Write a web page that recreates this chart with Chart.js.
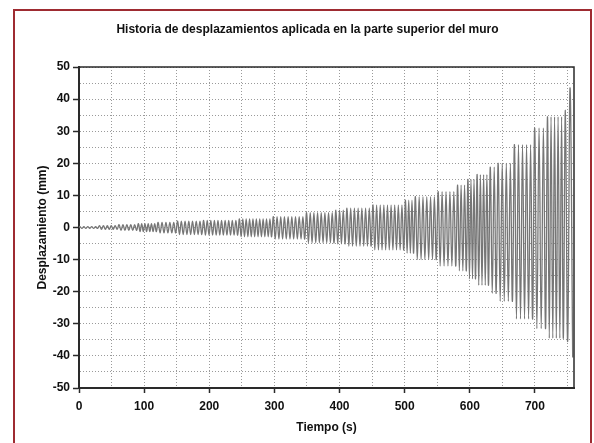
<!DOCTYPE html>
<html>
<head>
<meta charset="utf-8">
<script src="https://cdn.jsdelivr.net/npm/chart.js@4.4.1/dist/chart.umd.min.js"></script>
<style>
  html, body { margin: 0; padding: 0; background: #fff; }
</style>
</head>
<body>
<canvas id="myChart" width="594" height="443"></canvas>
<script>
// Displacement protocol: amplitude stages (time in s, displacement in mm)
const stageTimes = [0, 30, 60, 90, 120, 150, 190, 245, 297, 348, 393, 410, 450, 500, 515, 550, 580, 596, 610, 630, 642, 667, 698, 718, 745, 752, 760];
const stageCycles = [5, 5, 5, 6, 5, 7, 10, 10, 9, 8, 3, 7, 9, 3, 6, 5, 3, 3, 4, 2, 4, 5, 3, 5, 1, 1];
const stageMax = [0.3, 0.6, 0.9, 1.2, 1.6, 2.0, 2.2, 2.7, 3.4, 4.6, 5.4, 6.0, 7.0, 8.5, 9.6, 11.2, 13.2, 15.0, 16.5, 18.8, 20.0, 25.8, 31.0, 34.5, 36.5, 43.5];
const stageMin = [-0.3, -0.6, -0.9, -1.3, -1.7, -2.2, -2.4, -2.9, -3.6, -4.8, -5.1, -5.8, -7.0, -8.0, -10.0, -12.0, -13.5, -16.0, -18.0, -20.5, -23.0, -28.5, -31.5, -34.5, -35.5, -40.5];

const chartTitle = 'Historia de desplazamientos aplicada en la parte superior del muro';
const xTitle = 'Tiempo (s)';
const yTitle = 'Desplazamiento (mm)';

const FONT = 'Liberation Sans, Arial, Helvetica, sans-serif';
const INK = '#111111';
const AXIS = '#2a2a2a';
const GRID = '#9a9a9a';

// each cycle goes up to the stage peak, then down to the stage trough
function buildHistory() {
  const points = [{ x: 0, y: 0 }];
  for (let i = 0; i < stageCycles.length; i++) {
    const t0 = stageTimes[i];
    const dt = (stageTimes[i + 1] - t0) / stageCycles[i];
    for (let k = 0; k < stageCycles[i]; k++) {
      points.push({ x: t0 + dt * (k + 0.25), y: stageMax[i] });
      points.push({ x: t0 + dt * (k + 0.75), y: stageMin[i] });
    }
  }
  return points;
}

const framePlugin = {
  id: 'frame',
  beforeDraw(chart) {
    const ctx = chart.ctx;
    ctx.save();
    ctx.fillStyle = '#ffffff';
    ctx.fillRect(0, 0, chart.width, chart.height);
    ctx.strokeStyle = '#9e2b31';
    ctx.lineWidth = 2;
    ctx.beginPath();
    ctx.moveTo(14, chart.height + 2);
    ctx.lineTo(14, 10);
    ctx.lineTo(591, 10);
    ctx.lineTo(591, chart.height + 2);
    ctx.stroke();
    ctx.restore();
  },
  afterDraw(chart) {
    const { left, top, right, bottom } = chart.chartArea;
    const ctx = chart.ctx;
    ctx.save();
    ctx.strokeStyle = AXIS;
    ctx.lineWidth = 1.5;
    ctx.beginPath();
    ctx.moveTo(left, top);
    ctx.lineTo(right, top);
    ctx.lineTo(right, bottom);
    ctx.stroke();
    ctx.restore();
  }
};

const textFont = { family: FONT, size: 12, weight: 'bold' };

const ctx = document.getElementById('myChart').getContext('2d');
const historyChart = new Chart(ctx, {
  type: 'line',
  data: {
    datasets: [{
      label: 'Desplazamiento',
      data: buildHistory(),
      borderColor: '#767676',
      borderWidth: 1.3,
      pointRadius: 0,
      tension: 0.4,
      fill: false
    }]
  },
  options: {
    responsive: false,
    animation: false,
    devicePixelRatio: 1,
    layout: { padding: { left: 41, right: 20, top: 0, bottom: 0 } },
    plugins: {
      legend: { display: false },
      tooltip: { enabled: false },
      title: {
        display: true,
        text: chartTitle,
        color: INK,
        font: textFont,
        padding: { top: 22.8, bottom: 29.8 }
      }
    },
    scales: {
      x: {
        type: 'linear',
        min: 0,
        max: 760,
        afterFit(scale) { scale.height = 55; },
        ticks: {
          stepSize: 50,
          includeBounds: false,
          autoSkip: false,
          maxRotation: 0,
          padding: 6.8,
          color: INK,
          font: textFont,
          callback: v => (v % 100 === 0 ? v : '')
        },
        grid: {
          color: GRID,
          lineWidth: 1,
          tickLength: 5,
          tickWidth: 1.5,
          tickBorderDash: [],
          tickColor: c => (c.tick && c.tick.value % 100 === 0 ? AXIS : 'rgba(0,0,0,0)')
        },
        border: { display: true, color: AXIS, width: 2, dash: [1, 2] },
        title: {
          display: true,
          text: xTitle,
          color: INK,
          font: textFont,
          padding: { top: 0, bottom: 7.8 }
        }
      },
      y: {
        min: -50,
        max: 50,
        afterFit(scale) { scale.width = 38; },
        ticks: {
          stepSize: 5,
          autoSkip: false,
          padding: 3,
          color: INK,
          font: textFont,
          callback: v => (v % 10 === 0 ? v : '')
        },
        grid: {
          color: GRID,
          lineWidth: 1,
          tickLength: 6,
          tickWidth: 1.5,
          tickBorderDash: [],
          tickColor: c => (c.tick && c.tick.value % 10 === 0 ? AXIS : 'rgba(0,0,0,0)')
        },
        border: { display: true, color: AXIS, width: 2, dash: [1, 2] },
        title: {
          display: true,
          text: yTitle,
          color: INK,
          font: textFont,
          padding: { top: -5.2, bottom: 0 }
        }
      }
    }
  },
  plugins: [framePlugin]
});
</script>
</body>
</html>
